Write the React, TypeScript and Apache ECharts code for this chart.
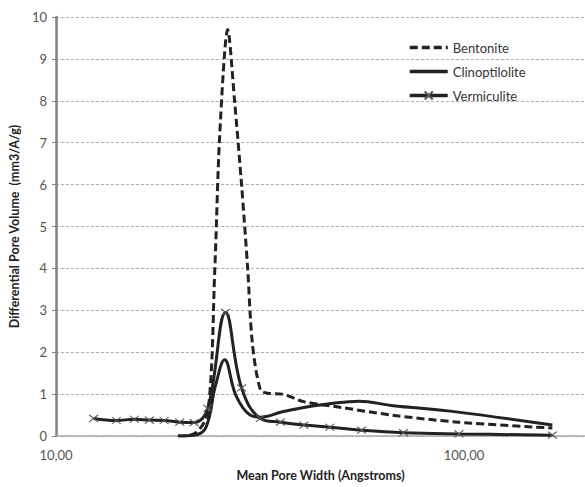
import React, { useEffect, useRef } from "react";
import * as echarts from "echarts";

const seriesNames = ["Bentonite", "Clinoptilolite", "Vermiculite"];

const bentoniteX = [19.9, 21.8, 23.56, 24.51, 25.2, 26.36, 27.4, 28.5, 29.5, 30.3, 31.7, 33.0, 35.9, 40.5, 50.2, 66.4, 96.7, 164.7];
const bentoniteY = [0, 0.05, 0.55, 4.0, 7.2, 9.7, 8.0, 6.0, 4.0, 2.2, 1.1, 1.02, 1.0, 0.82, 0.68, 0.5, 0.33, 0.19];

const clinoX = [19.9, 21.8, 23.3, 24.6, 25.9, 27.6, 29.9, 31.7, 35.9, 40.5, 46.9, 55.3, 66.4, 96.7, 164.7];
const clinoY = [0, 0.02, 0.2, 1.2, 1.82, 0.97, 0.5, 0.45, 0.58, 0.68, 0.77, 0.83, 0.73, 0.57, 0.26];

const vermX = [12.37, 14.06, 15.56, 16.93, 18.41, 20.1, 21.8, 23.56, 26.05, 28.5, 31.7, 35.5, 40.5, 46.9, 56.1, 71.1, 97.2, 164.7];
const vermY = [0.42, 0.37, 0.4, 0.38, 0.37, 0.33, 0.32, 0.66, 2.95, 1.15, 0.42, 0.33, 0.26, 0.21, 0.14, 0.08, 0.05, 0.02];

const xMin = 10;
const xMax = 198;
const yMin = 0;
const yMax = 10;
const yInterval = 1;

const zip = (xs: number[], ys: number[]) => xs.map((x, i) => [x, ys[i]]);

const LINE = "#222222";
const FONT = "Lato, 'Open Sans', sans-serif";

export default function App() {
  const ref = useRef<HTMLDivElement>(null);
  useEffect(() => {
    if (!ref.current) return;
    const chart = echarts.init(ref.current, undefined, { renderer: "svg" });
    chart.setOption({
      animation: false,
      backgroundColor: "#ffffff",
      textStyle: { fontFamily: FONT },
      grid: { left: 52, right: 0, top: 17, bottom: 46, containLabel: false },
      legend: {
        orient: "vertical",
        left: 403,
        top: 36,
        itemWidth: 38,
        itemHeight: 10,
        itemGap: 11,
        lineStyle: { width: 3.5 },
        data: [
          { name: seriesNames[0], itemStyle: { opacity: 0 } },
          { name: seriesNames[1], itemStyle: { opacity: 0 } },
          { name: seriesNames[2] },
        ],
        textStyle: { fontSize: 13, color: "#333", fontFamily: FONT },
      },
      xAxis: {
        type: "log",
        logBase: 10,
        min: xMin,
        max: xMax,
        name: "Mean Pore Width (Angstroms)",
        nameLocation: "middle",
        nameGap: 33,
        nameTextStyle: { fontSize: 12.5, fontWeight: "bold", color: "#222", fontFamily: FONT },
        axisLine: { show: true, lineStyle: { color: "#aaaaaa", width: 1.5 } },
        axisTick: { show: false },
        splitLine: { show: false },
        minorTick: { show: false },
        axisLabel: {
          fontSize: 13,
          color: "#555",
          margin: 12,
          showMaxLabel: false,
          formatter: (v: number) => {
            const l = Math.log10(v);
            if (Math.abs(l - Math.round(l)) < 1e-6) return v.toFixed(2).replace(".", ",");
            return "";
          },
        },
      },
      yAxis: {
        type: "value",
        min: yMin,
        max: yMax,
        interval: yInterval,
        name: "Differential Pore Volume  (mm3/A/g)",
        nameLocation: "middle",
        nameGap: 32,
        nameTextStyle: { fontSize: 12.5, fontWeight: "bold", color: "#222", fontFamily: FONT },
        axisLine: { show: true, lineStyle: { color: "#808080", width: 2.5 } },
        axisTick: { show: true, length: 4, lineStyle: { color: "#808080" } },
        splitLine: { show: true, lineStyle: { color: "#b0b0b0", type: [3, 2], width: 1 } },
        axisLabel: { fontSize: 13, color: "#555", margin: 9 },
      },
      series: [
        {
          name: seriesNames[0],
          type: "line",
          data: zip(bentoniteX, bentoniteY),
          smooth: 0.3,
          symbol: "none",
          lineStyle: { color: LINE, width: 3, type: [8, 4] },
          itemStyle: { color: LINE },
          z: 3,
        },
        {
          name: seriesNames[1],
          type: "line",
          data: zip(clinoX, clinoY),
          smooth: 0.4,
          symbol: "none",
          lineStyle: { color: LINE, width: 3 },
          itemStyle: { color: LINE },
          z: 2,
        },
        {
          name: seriesNames[2],
          type: "line",
          data: zip(vermX, vermY),
          smooth: 0.4,
          symbol: "path://M0,0L10,8M10,0L0,8",
          symbolSize: [9, 7],
          showSymbol: true,
          lineStyle: { color: LINE, width: 3 },
          itemStyle: { color: "#555", borderColor: "#555", borderWidth: 1 },
          z: 4,
        },
      ],
    });
    return () => chart.dispose();
  }, []);
  return (
    <div
      ref={ref}
      style={{ position: "fixed", left: 0, top: 0, width: 585, height: 487 }}
    />
  );
}
